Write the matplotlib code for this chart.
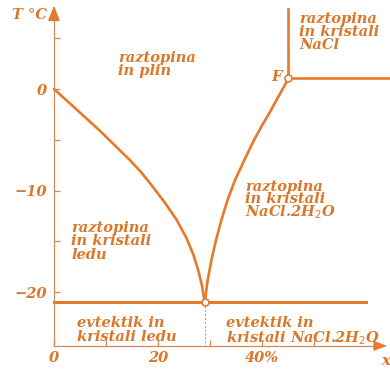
import matplotlib
matplotlib.use("Agg")
import matplotlib.pyplot as plt

# --- data -------------------------------------------------------------
# liquidus of ice (wt% NaCl, temperature in degC)
ice_x = [0, 2.8, 5.6, 9.0, 12.1, 14.6, 16.6, 18.5, 21.2, 23.6, 25.4, 26.8, 27.7, 28.4, 29.0]
ice_t = [0, -1.3, -2.6, -4.2, -5.75, -7.0, -8.1, -9.3, -11.1, -12.9, -14.6, -16.3, -17.8, -19.2, -21.0]

# liquidus of NaCl.2H2O up to the peritectic point F
dih_x = [29.0, 29.5, 30.3, 31.2, 32.2, 33.4, 34.8, 36.6, 38.5, 40.0, 41.5, 43.0, 44.2, 45.1]
dih_t = [-21.0, -19.0, -16.8, -14.8, -12.9, -10.9, -9.0, -7.0, -5.0, -3.6, -2.3, -0.9, 0.2, 1.05]

eut_x, eut_t = 29.0, -21.0
f_x, f_t = 45.1, 1.05
eut_line_end = 60
nacl_top = 7.9
xmax_line = 65

xticks = [0, 10, 20, 30, 40, 50]
xticklabels = ["0", "", "20", "", "40%", ""]
yticks = [5, 0, -5, -10, -15, -20]
yticklabels = ["", "0", "", "\u221210", "", "\u221220"]
t_bottom = -25.3

LINE = "#e8782a"
TXT = "#d9782a"
AX = "#d08a55"

plt.rcParams["font.family"] = ["DejaVu Serif"]

fig = plt.figure(figsize=(3.9, 3.7), dpi=100)
ax = fig.add_axes([0, 0, 1, 1])
ax.set_xlim(-10.38, 64.62)
ax.set_ylim(-27.68, 8.77)

# axes drawn as spines through the origin
for s in ("top", "right"):
    ax.spines[s].set_visible(False)
ax.spines["left"].set_position(("data", 0))
ax.spines["bottom"].set_position(("data", t_bottom))
ax.spines["left"].set_bounds(t_bottom, 7.0)
ax.spines["bottom"].set_bounds(0, 63)
for s in ("left", "bottom"):
    ax.spines[s].set_color(AX)
    ax.spines[s].set_linewidth(0.9)
ax.annotate("", xy=(0, 8.5), xytext=(0, 6.5),
            arrowprops=dict(arrowstyle="-|>,head_width=0.35,head_length=0.9",
                            color=LINE, lw=1.2))
ax.annotate("", xy=(64.6, t_bottom), xytext=(62, t_bottom),
            arrowprops=dict(arrowstyle="-|>,head_width=0.3,head_length=0.8",
                            color=LINE, lw=1.0))

FS = 10.5
tick_font = dict(fontsize=FS, fontweight="bold", style="italic", color=TXT)
ax.set_xticks(xticks)
ax.set_xticklabels(xticklabels, **tick_font)
ax.set_yticks(yticks)
ax.set_yticklabels(yticklabels, **tick_font)
ax.tick_params(axis="both", direction="in", length=4, color=AX, width=0.9)
ax.tick_params(axis="x", pad=4)
ax.tick_params(axis="y", pad=5)

# phase boundaries
ax.plot(ice_x, ice_t, color=LINE, lw=1.9, solid_capstyle="round",
        solid_joinstyle="round")
ax.plot(dih_x, dih_t, color=LINE, lw=1.9, solid_capstyle="round",
        solid_joinstyle="round")
ax.plot([0, eut_line_end], [eut_t, eut_t], color=LINE, lw=2.2)
ax.plot([f_x, f_x], [f_t, nacl_top], color=LINE, lw=1.9)
ax.plot([f_x, xmax_line], [f_t, f_t], color=LINE, lw=1.9)
ax.plot([eut_x, eut_x], [eut_t, t_bottom], color=AX, lw=0.7, ls=(0, (2, 2)))
for px, pt in ((eut_x, eut_t), (f_x, f_t)):
    ax.plot(px, pt, "o", ms=5, mfc="white", mec=LINE, mew=1.2, zorder=5)

lab = dict(fontsize=FS, fontweight="bold", style="italic", color=TXT,
           va="top", ha="left")
ax.text(-1.3, 7.3, "T \u00b0C", ha="right", va="center", fontsize=FS,
        fontweight="bold", style="italic", color=TXT)
ax.text(12.3, 3.7, "raztopina\nin plin", linespacing=0.85, **lab)
ax.text(47.1, 7.6, "raztopina\nin kristali\nNaCl", linespacing=0.9, **lab)
ax.text(43.8, 1.2, "F", ha="right", va="center", fontsize=FS,
        fontweight="bold", style="italic", color=TXT)
ax.text(36.8, -9.0, "raztopina\nin kristali\nNaCl.2H$_2$O", linespacing=0.8,
        **lab)
ax.text(3.3, -13.0, "raztopina\nin kristali\nledu", linespacing=0.95, **lab)
ax.text(4.4, -22.4, "evtektik in\nkristali ledu", linespacing=0.95, **lab)
ax.text(33.0, -22.4, "evtektik in\nkristali NaCl.2H$_2$O", linespacing=0.9,
        **lab)
ax.text(62.9, -26.8, "x", ha="left", va="center", fontsize=FS,
        fontweight="bold", style="italic", color=TXT)

fig.savefig("out.png", dpi=100, facecolor="white")
